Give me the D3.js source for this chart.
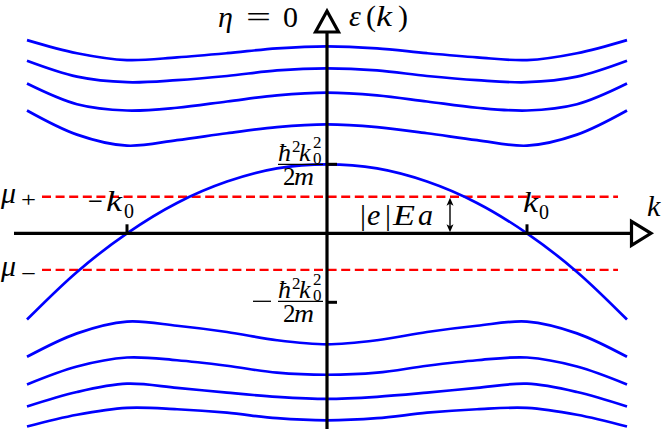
<!DOCTYPE html>
<html><head><meta charset="utf-8">
<script src="https://cdn.jsdelivr.net/npm/d3@7"></script>
<style>
body{margin:0;background:#fff}
</style></head>
<body><svg id="c" width="664" height="429"></svg>
<script>
// ---- data (k in units of k0, energy in units of hbar^2 k0^2 / 2m) ----
const kSamples   = [-1.5,-1.25,-1,-0.75,-0.5,-0.25,0,0.25,0.5,0.75,1,1.25,1.5];
const parabola   = [-1.25,-0.56,0,0.44,0.75,0.94,1,0.94,0.75,0.44,0,-0.56,-1.25];
const upperBand1 = [2.80,2.61,2.51,2.55,2.61,2.68,2.71,2.68,2.61,2.55,2.51,2.61,2.80];
const upperBand2 = [2.50,2.27,2.19,2.22,2.28,2.36,2.39,2.36,2.28,2.22,2.19,2.27,2.50];
const upperBand3 = [2.17,1.87,1.78,1.82,1.91,2.00,2.04,2.00,1.91,1.82,1.78,1.87,2.17];
const upperBand4 = [1.78,1.43,1.27,1.35,1.45,1.54,1.58,1.54,1.45,1.35,1.27,1.43,1.78];
const lowerBand1 = [-1.79,-1.45,-1.28,-1.34,-1.43,-1.55,-1.61,-1.55,-1.43,-1.34,-1.28,-1.45,-1.79];
const lowerBand2 = [-2.19,-1.93,-1.80,-1.84,-1.92,-2.02,-2.05,-2.02,-1.92,-1.84,-1.80,-1.93,-2.19];
const lowerBand3 = [-2.51,-2.30,-2.18,-2.24,-2.31,-2.37,-2.40,-2.37,-2.31,-2.24,-2.18,-2.30,-2.51];
const lowerBand4 = [-2.80,-2.63,-2.53,-2.55,-2.60,-2.68,-2.71,-2.68,-2.60,-2.55,-2.53,-2.63,-2.80];
const chemPotentials = [0.53, -0.53];      // mu+, mu-
const chemExtent     = [-1.425, 1.455];    // k range of dashed lines
const kTicks = [-1, 1];
const eTicks = [-1, 1];

const svg = d3.select("#c");
const x = d3.scaleLinear().domain([-1,1]).range([127,527]);
const y = d3.scaleLinear().domain([-1,1]).range([302.3,164.3]);
const x0 = x(0), y0 = y(0);

// dashed chemical potentials
chemPotentials.forEach(m=>{
  svg.append("line").attr("x1",x(chemExtent[0])).attr("x2",x(chemExtent[1]))
    .attr("y1",y(m)).attr("y2",y(m))
    .attr("stroke","#ff0000").attr("stroke-width",2.4).attr("stroke-dasharray","9,4.6");
});

// bands
const line = d3.line().x((d,i)=>x(kSamples[i])).y(d=>y(d)).curve(d3.curveCatmullRom.alpha(0.5));
[parabola,upperBand1,upperBand2,upperBand3,upperBand4,lowerBand1,lowerBand2,lowerBand3,lowerBand4].forEach(s=>{
  svg.append("path").attr("d",line(s)).attr("fill","none").attr("stroke","#0000ff").attr("stroke-width",2.7);
});

// axes
svg.append("line").attr("x1",14).attr("x2",631).attr("y1",y0).attr("y2",y0).attr("stroke","#000").attr("stroke-width",3.2);
svg.append("path").attr("d",`M631.5,${y0-12}L651,${y0}L631.5,${y0+12}Z`).attr("fill","#fff").attr("stroke","#000").attr("stroke-width",3.2).attr("stroke-linejoin","miter");
svg.append("line").attr("x1",x0).attr("x2",x0).attr("y1",429).attr("y2",32).attr("stroke","#000").attr("stroke-width",3.2);
svg.append("path").attr("d",`M${x0-11.5},32L${x0},11L${x0+11.5},32Z`).attr("fill","#fff").attr("stroke","#000").attr("stroke-width",3.2).attr("stroke-linejoin","miter");

kTicks.forEach(k=>svg.append("line").attr("x1",x(k)).attr("x2",x(k)).attr("y1",y0).attr("y2",y0-9).attr("stroke","#000").attr("stroke-width",3));
eTicks.forEach(e=>svg.append("line").attr("x1",x0).attr("x2",x0+10).attr("y1",y(e)).attr("y2",y(e)).attr("stroke","#000").attr("stroke-width",3));

// text helper
function t(xp,yp,s,size,italic,len){
  const el=svg.append("text").attr("x",xp).attr("y",yp)
    .style("font-family","Liberation Serif, DejaVu Serif, serif")
    .style("font-size",size+"px")
    .style("font-style",italic?"italic":"normal")
    .attr("fill","#000").text(s);
  if(len) el.attr("textLength",len).attr("lengthAdjust","spacingAndGlyphs");
  return el;
}

// eta = 0 and epsilon(k)
t(218,27,"η",30,true);
t(246,27,"=",30,false,25);
t(283,27,"0",30,false);
t(349,26,"ε",30,true);
t(366,26,"(",30,false);
t(376,26,"k",30,true,16);
t(398,26,")",30,false);

// k axis label
t(647,216,"k",30,true);

// mu labels
t(1,203,"μ",30,true);
t(21,207,"+",22,false,15);
t(1,276,"μ",30,true);
t(21,281,"−",22,false,15);

// k ticks labels
t(88,211,"−",30,false,15);
t(106,211,"k",30,true,16);
t(124,218,"0",20,false);
t(523,212,"k",30,true,15);
t(539,219,"0",20,false);

// fractions
function frac(by){
  t(278,by-3,"ħ",26,true);
  t(292,by-12,"2",17,false);
  t(299,by-3,"k",26,true);
  t(313,by-16,"2",17,false);
  t(313,by,"0",17,false);
  svg.append("line").attr("x1",278).attr("x2",323).attr("y1",by).attr("y2",by).attr("stroke","#000").attr("stroke-width",1.3);
  t(283,by+21,"2",25,false);
  t(294,by+21,"m",25,true,20);
}
frac(y(1));
frac(y(-1)-1);
svg.append("line").attr("x1",253).attr("x2",271).attr("y1",y(-1)-1).attr("y2",y(-1)-1).attr("stroke","#000").attr("stroke-width",1.3);

// |e|Ea label
t(360,225,"|",30,false);
t(367,225,"e",30,true);
t(385,225,"|",30,false);
t(393,225,"E",30,true,22);
t(418,225,"a",30,true);

// double arrow from mu+ to axis
const ax=450, ay1=y(chemPotentials[0])+1, ay2=y0-1;
svg.append("line").attr("x1",ax).attr("x2",ax).attr("y1",ay1+5).attr("y2",ay2-5).attr("stroke","#000").attr("stroke-width",1.4);
svg.append("path").attr("d",`M${ax},${ay1}L${ax-3.5},${ay1+8}L${ax},${ay1+6}L${ax+3.5},${ay1+8}Z`).attr("fill","#000");
svg.append("path").attr("d",`M${ax},${ay2}L${ax-3.5},${ay2-8}L${ax},${ay2-6}L${ax+3.5},${ay2-8}Z`).attr("fill","#000");
</script></body></html>
